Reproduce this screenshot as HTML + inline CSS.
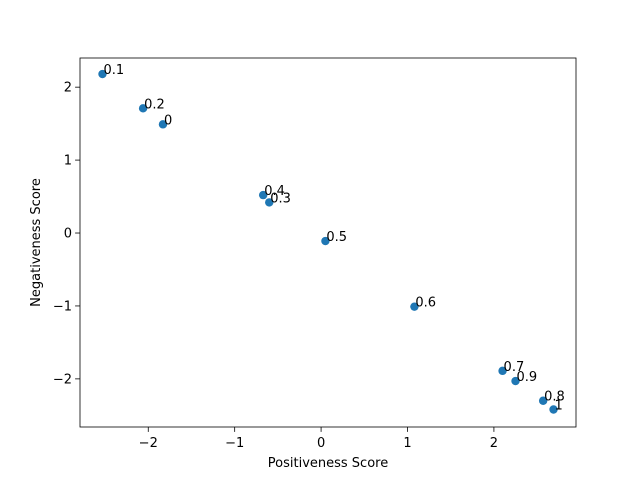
<!DOCTYPE html>
<html><head><meta charset="utf-8">
<style>
body{margin:0;background:#fff;}
svg{display:block;font-family:"DejaVu Sans","Liberation Sans",sans-serif;}
</style></head>
<body>
<svg id="chart" width="640" height="480"></svg>
<script>
const labels = ["0","0.1","0.2","0.3","0.4","0.5","0.6","0.7","0.8","0.9","1"];
const xValues = [-1.83,-2.53,-2.06,-0.60,-0.67,0.05,1.08,2.10,2.57,2.25,2.69];
const yValues = [1.49,2.18,1.71,0.42,0.52,-0.11,-1.01,-1.89,-2.30,-2.03,-2.42];
const xTicks = [-2,-1,0,1,2];
const yTicks = [-2,-1,0,1,2];
const xTickLabels = ["\u22122","\u22121","0","1","2"];
const yTickLabels = ["\u22122","\u22121","0","1","2"];

const L=80,R=576,T=58,B=427;
const xMin=-2.79,xMax=2.95,yMin=-2.66,yMax=2.40;
const sx=v=>L+(v-xMin)/(xMax-xMin)*(R-L);
const sy=v=>B-(v-yMin)/(yMax-yMin)*(B-T);
const svg=document.getElementById('chart');
const NS="http://www.w3.org/2000/svg";
function mk(tag,attrs,text){const e=document.createElementNS(NS,tag);for(const k in attrs)e.setAttribute(k,attrs[k]);if(text!==undefined)e.textContent=text;svg.appendChild(e);return e;}

const frame=mk('rect',{x:L,y:T,width:R-L,height:B-T,fill:'none',stroke:'#000','stroke-width':0.8});



xTicks.forEach((t,i)=>{
  const x=sx(t);
  const tk=mk('line',{x1:x,x2:x,y1:B,y2:B+4.9,stroke:'#000','stroke-width':0.8});
  
  
  const lb=mk('text',{x:x,y:B+20,'font-size':13,'text-anchor':'middle'},xTickLabels[i]);
  
  
});
yTicks.forEach((t,i)=>{
  const y=sy(t);
  const tk=mk('line',{x1:L-4.9,x2:L,y1:y,y2:y,stroke:'#000','stroke-width':0.8});
  
  
  const lb=mk('text',{x:L-8,y:y+4.5,'font-size':13,'text-anchor':'end'},yTickLabels[i]);
  
  
});

labels.forEach((lab,i)=>{
  const cx=sx(xValues[i]),cy=sy(yValues[i]);
  const c=mk('circle',{cx:cx,cy:cy,r:4.2,fill:'#1f77b4'});
  
  
  const t=mk('text',{x:cx+1,y:cy,'font-size':13,fill:'#000'},lab);
  
  
});

const xt=mk('text',{x:(L+R)/2,y:467,'font-size':13,'text-anchor':'middle'},'Positiveness Score');


const yt=mk('text',{x:0,y:0,'font-size':13,'text-anchor':'middle',transform:'translate(40,'+((T+B)/2)+') rotate(-90)'},'Negativeness Score');


</script>
</body></html>
